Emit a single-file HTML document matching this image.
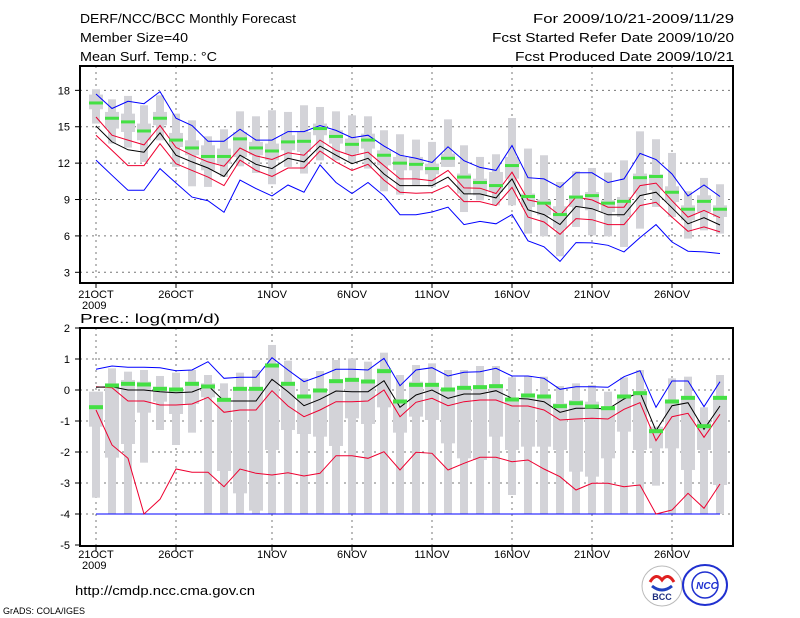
<!DOCTYPE html>
<html><head><meta charset="utf-8"><style>
html,body{margin:0;padding:0;background:#fff;}
svg{display:block;font-family:"Liberation Sans",sans-serif;}
</style></head><body>
<svg id="chart" width="800" height="618" viewBox="0 0 800 618">
<g font-size="13" fill="#000">
<text x="80" y="23" textLength="216" lengthAdjust="spacingAndGlyphs">DERF/NCC/BCC Monthly Forecast</text>
<text x="80" y="42" textLength="108" lengthAdjust="spacingAndGlyphs">Member Size=40</text>
<text x="80" y="61" textLength="137" lengthAdjust="spacingAndGlyphs">Mean Surf. Temp.: °C</text>
<text x="533" y="23" textLength="201" lengthAdjust="spacingAndGlyphs">For 2009/10/21-2009/11/29</text>
<text x="492" y="42" textLength="242" lengthAdjust="spacingAndGlyphs">Fcst Started Refer Date 2009/10/20</text>
<text x="515" y="61" textLength="219" lengthAdjust="spacingAndGlyphs">Fcst Produced Date 2009/10/21</text>
</g>
<text x="80" y="323" font-size="13" textLength="140" lengthAdjust="spacingAndGlyphs">Prec.: log(mm/d)</text>
<text x="75" y="595" font-size="13" textLength="180" lengthAdjust="spacingAndGlyphs">http://cmdp.ncc.cma.gov.cn</text>
<text x="3" y="614" font-size="9">GrADS: COLA/IGES</text>
<g>
<circle cx="662" cy="586" r="20" fill="#fff" stroke="#bbb" stroke-width="1"/>
<path d="M650 582 q6 -10 12 -2 q6 -8 12 2" fill="none" stroke="#e02020" stroke-width="3"/>
<path d="M652 586 q10 8 20 0" fill="none" stroke="#2040c0" stroke-width="3"/>
<text x="662" y="600" font-size="9" font-weight="bold" text-anchor="middle" fill="#203080">BCC</text>
</g>
<g>
<ellipse cx="705" cy="585" rx="22" ry="20" fill="#fff" stroke="#2030d0" stroke-width="2"/>
<circle cx="705" cy="585" r="13" fill="none" stroke="#2030d0" stroke-width="1.5"/>
<text x="707" y="589" font-size="10" font-weight="bold" font-style="italic" text-anchor="middle" fill="#2030d0">NCC</text>
</g>
<g id="top"></g>
<g id="bot"></g>
</svg>
<script>
// ---- Temperature panel data (°C), days 2009/10/21 .. 2009/11/29 ----
const tBlueHi=[17.7,16.5,17.1,16.9,17.9,15.7,15.1,13.8,13.8,14.8,13.9,13.9,14.6,14.6,15.1,14.7,14.1,14.3,13.4,12.65,12.4,12.05,13.35,12.2,11.65,11.4,13.45,10.8,10.7,10.0,11.2,11.2,10.4,10.7,12.8,12.3,11.1,9.3,10.2,9.25];
const tRedHi=[15.8,14.3,13.9,13.5,15.1,13.3,12.65,12.1,11.75,13.25,12.6,12.3,12.85,12.65,13.9,13.05,12.6,12.9,11.8,10.7,10.7,10.55,11.4,9.96,9.93,9.5,11.25,8.97,8.7,7.68,9.2,8.97,8.37,8.37,10.15,10.35,8.9,7.55,8.1,7.5];
const tMean=[15.06,13.75,13.1,12.9,14.5,12.65,12.1,11.6,10.9,12.65,11.9,11.55,12.4,12.1,13.4,12.65,11.95,12.4,11.1,10.15,10.15,10.15,10.85,9.46,9.46,9.13,10.7,8.15,7.76,6.94,8.43,8.24,7.74,7.74,9.32,9.6,8.32,7.0,7.5,6.9];
const tRedLo=[14.3,13.05,11.8,11.8,13.6,11.95,11.4,10.85,10.15,12.25,11.4,10.9,11.6,11.6,13.0,12.1,11.4,11.9,10.6,9.6,9.52,9.57,10.15,8.83,8.83,8.5,10.0,7.55,7.15,6.13,7.43,7.34,6.93,6.93,8.5,8.77,7.55,6.38,6.74,6.33];
const tBlueLo=[12.25,11.0,9.76,9.76,11.55,10.36,9.2,8.9,7.95,10.6,9.9,9.3,10.2,9.6,11.85,10.4,9.5,10.4,9.3,7.75,7.75,7.97,8.37,6.93,7.2,7.0,7.76,5.6,5.1,3.9,5.45,5.42,5.23,4.68,5.86,6.93,5.5,4.74,4.68,4.55];
const tClim=[16.96,15.7,15.4,14.65,15.7,13.9,13.25,12.55,12.55,14.0,13.25,13.0,13.75,13.8,14.85,14.2,13.55,13.9,12.65,12.0,11.9,11.55,12.4,10.85,10.4,10.15,11.8,9.25,8.7,7.76,9.2,9.32,8.7,8.85,10.8,10.9,9.6,8.2,8.85,8.2];
const tMax=[18.09,17.26,17.54,16.77,17.59,16.08,15.53,14.21,14.79,16.27,15.86,16.36,16.22,16.77,16.63,16.27,15.94,15.86,14.71,14.38,13.94,13.75,15.61,13.47,12.51,12.73,15.72,13.2,12.65,10.45,11.33,11.6,11.22,12.23,14.62,13.97,12.84,9.68,10.78,10.26];
const tMin=[15.26,13.61,13.28,12.1,13.88,11.69,10.09,10.04,10.86,11.74,11.19,10.26,11.69,11.14,12.23,12.23,12.1,11.55,9.68,9.4,10.17,10.04,11.69,7.97,8.94,8.52,8.52,6.19,5.97,4.32,6.74,6.05,5.97,5.09,6.6,8.39,7.56,5.78,6.46,6.19];
const tQ3=[17.65,16.22,16.08,15.26,16.22,14.49,13.88,13.47,13.2,14.57,13.75,13.61,14.3,14.57,15.26,14.71,14.02,14.43,13.06,12.51,12.51,11.96,12.79,11.14,10.72,11.27,12.51,9.49,8.99,8.44,9.35,9.62,8.94,9.21,11.14,11.08,10.09,8.52,9.35,8.52];
const tQ1=[16.44,14.85,14.57,13.88,15.12,13.33,12.65,11.41,11.96,12.51,12.65,12.23,13.06,12.92,14.3,13.61,12.79,13.2,11.82,11.41,11.41,11.08,11.69,9.49,9.35,9.62,10.72,8.39,7.7,6.6,8.39,8.11,7.97,7.56,9.49,9.76,8.8,7.29,7.97,7.56];
const tTicks=[3,6,9,12,15,18];
// ---- Precipitation panel data, log(mm/d) ----
const pBlueHi=[0.667,0.774,0.731,0.731,0.72,0.624,0.645,0.914,0.376,0.409,0.409,1.043,0.645,0.269,0.452,0.667,0.667,0.645,1.021,0.14,0.645,0.72,0.452,0.57,0.591,0.699,0.452,0.452,0.376,0.022,0.108,0.108,0.086,0.43,0.624,-0.559,0.29,0.29,-0.538,0.269];
const pRedHi=[0.108,0.075,-0.355,-0.355,-0.484,-0.484,-0.452,-0.237,-0.72,-0.645,-0.645,-0.022,-0.516,-0.86,-0.645,-0.376,-0.376,-0.355,0.0,-0.86,-0.398,-0.269,-0.505,-0.376,-0.323,-0.323,-0.516,-0.516,-0.645,-0.968,-0.935,-0.914,-0.935,-0.624,-0.409,-1.634,-0.86,-0.753,-1.527,-0.785];
const pMean=[0.086,0.108,0.0,0.0,-0.054,-0.086,-0.065,0.14,-0.355,-0.355,-0.355,0.344,-0.054,-0.505,-0.301,-0.032,-0.054,-0.054,0.301,-0.559,-0.161,0.0,-0.269,-0.129,-0.129,-0.022,-0.269,-0.29,-0.376,-0.72,-0.591,-0.591,-0.613,-0.29,-0.075,-1.312,-0.505,-0.409,-1.269,-0.516];
const pRedLo=[-0.645,-1.774,-2.204,-4.0,-3.527,-2.548,-2.656,-2.656,-3.118,-2.548,-2.688,-2.742,-2.667,-2.774,-2.688,-2.118,-2.118,-2.204,-1.989,-2.58,-2.011,-2.043,-2.58,-2.366,-2.172,-2.172,-2.312,-2.258,-2.548,-2.796,-3.226,-3.011,-3.011,-3.118,-3.064,-4.0,-3.871,-3.333,-3.817,-3.032];
const pBlueLo=[-4,-4,-4,-4,-4,-4,-4,-4,-4,-4,-4,-4,-4,-4,-4,-4,-4,-4,-4,-4,-4,-4,-4,-4,-4,-4,-4,-4,-4,-4,-4,-4,-4,-4,-4,-4,-4,-4,-4,-4];
const pClim=[-0.538,0.161,0.215,0.194,0.054,0.032,0.215,0.129,-0.301,0.054,0.054,0.806,0.215,-0.194,0.0,0.301,0.344,0.29,0.624,-0.355,0.183,0.183,0.032,0.086,0.108,0.14,-0.29,-0.161,-0.194,-0.505,-0.409,-0.516,-0.57,-0.194,-0.086,-1.312,-0.355,-0.237,-1.151,-0.237];
const pMax=[-0.054,0.699,0.591,0.645,0.452,0.559,0.645,0.484,0.215,0.559,0.645,1.452,0.946,0.376,0.613,0.968,1.021,0.914,1.204,0.484,0.806,0.86,0.645,0.645,0.774,0.774,0.409,0.452,0.43,0.129,0.215,0.161,-0.054,0.409,0.645,-1.183,0.376,0.43,-0.559,0.484];
const pMin=[-3.473,-4,-4,-2.344,-1.29,-1.774,-1.376,-4,-4,-4,-4,-4,-4,-4,-4,-4,-4,-4,-4,-4,-4,-4,-4,-4,-4,-4,-3.387,-4,-4,-4,-4,-4,-4,-4,-4,-3.086,-4,-4,-4,-4];
const pQ3=[-0.054,0.215,0.323,0.269,0.108,0.054,0.269,0.215,-0.323,0.054,0.054,0.86,0.269,-0.161,0.054,0.323,0.376,0.323,0.699,-0.323,0.269,0.215,0.054,0.108,0.108,0.161,-0.269,-0.108,-0.269,-0.43,-0.323,-0.376,-0.538,-0.161,-0.086,-1.183,-0.323,-0.269,-0.968,-0.269];
const pQ1=[-1.183,-2.183,-1.742,-0.731,-0.376,-0.774,-0.452,-0.237,-2.613,-3.333,-3.892,-1.935,-1.29,-1.419,-1.505,-1.806,-0.914,-1.097,-0.559,-1.376,-0.86,-0.968,-1.72,-2.204,-2.258,-1.505,-1.935,-1.828,-1.828,-1.935,-2.634,-2.796,-2.204,-1.344,-1.935,-1.882,-1.882,-2.58,-1.935,-3.065];
const pTicks=[-5,-4,-3,-2,-1,0,1,2];
const dateLabels=["21OCT","26OCT","1NOV","6NOV","11NOV","16NOV","21NOV","26NOV"];
const dateIdx=[0,5,11,16,21,26,31,36];

const NS="http://www.w3.org/2000/svg";
function mk(tag,attrs,parent){const e=document.createElementNS(NS,tag);for(const k in attrs)e.setAttribute(k,attrs[k]);parent.appendChild(e);return e;}
const xDay=i=>96+16*i;

function panel(g,cfg){
  const {top,bottom,yv,ticks,series,boxes,prefix,labelY}=cfg;
  // grid
  ticks.forEach(t=>{const y=yv(t);
    if(y>top+2&&y<bottom-2){const l=mk('line',{x1:80,x2:733,y1:y,y2:y,stroke:'#777','stroke-dasharray':'2,4','stroke-width':1},g);
    
    }
    const tk=mk('line',{x1:75,x2:80,y1:y,y2:y,stroke:'#000'},g);
    
    
    const tx=mk('text',{x:70,y:y+4,'font-size':11,'text-anchor':'end'},g);tx.textContent=t;
    
    
  });
  dateIdx.forEach((d,k)=>{const x=xDay(d);
    const l=mk('line',{x1:x,x2:x,y1:top,y2:bottom,stroke:'#777','stroke-dasharray':'2,4'},g);
    
    
    const tk=mk('line',{x1:x,x2:x,y1:bottom,y2:bottom+5,stroke:'#000'},g);
    
    
    const tx=mk('text',{x:x,y:labelY,'font-size':11,'text-anchor':'middle'},g);tx.textContent=dateLabels[k];
    
    
  });
  const yr=mk('text',{x:82,y:labelY+11,'font-size':11},g);yr.textContent='2009';
  
  
  // boxes
  for(let i=0;i<boxes.max.length;i++){const x=xDay(i);
    const a=mk('rect',{x:x-4,y:yv(boxes.max[i]),width:8,height:Math.max(0,yv(boxes.min[i])-yv(boxes.max[i])),fill:'#d3d3d8'},g);
    
    
    const b=mk('rect',{x:x-7,y:yv(boxes.q3[i]),width:14,height:Math.max(0,yv(boxes.q1[i])-yv(boxes.q3[i])),fill:'#d3d3d8'},g);
    
    
  }
  series.forEach(s=>{
    const pts=s.v.map((v,i)=>xDay(i)+','+yv(v).toFixed(1)).join(' ');
    const p=mk('polyline',{points:pts,fill:'none',stroke:s.c,'stroke-width':1},g);
    
    
  });
  cfg.clim.forEach((v,i)=>{
    const r=mk('rect',{x:xDay(i)-7,y:yv(v)-1.5,width:14,height:cfg.gh,fill:'#44e044'},g);
    
    
  });
  const f=mk('rect',{x:80,y:top,width:653,height:bottom-top,fill:'none',stroke:'#000','stroke-width':2},g);
  
  
}
const yT=v=>272.3-(v-3)*12.13;
const yP=v=>390-31*v;
panel(document.getElementById('top'),{top:66,bottom:283,yv:yT,ticks:tTicks,prefix:'temp',labelY:298,gh:3,
  boxes:{max:tMax,min:tMin,q3:tQ3,q1:tQ1},clim:tClim,
  series:[{v:tBlueHi,c:'#0000ff',n:'temp-upper-envelope'},{v:tRedHi,c:'#ee0030',n:'temp-upper-sd'},{v:tMean,c:'#000',n:'temp-ensemble-mean'},{v:tRedLo,c:'#ee0030',n:'temp-lower-sd'},{v:tBlueLo,c:'#0000ff',n:'temp-lower-envelope'}]});
panel(document.getElementById('bot'),{top:328,bottom:546,yv:yP,ticks:pTicks,prefix:'precip',labelY:558,gh:4,
  boxes:{max:pMax,min:pMin,q3:pQ3,q1:pQ1},clim:pClim,
  series:[{v:pBlueLo,c:'#0000ff',n:'precip-lower-envelope'},{v:pBlueHi,c:'#0000ff',n:'precip-upper-envelope'},{v:pRedHi,c:'#ee0030',n:'precip-upper-sd'},{v:pMean,c:'#000',n:'precip-ensemble-mean'},{v:pRedLo,c:'#ee0030',n:'precip-lower-sd'}]});
</script>
</body></html>
